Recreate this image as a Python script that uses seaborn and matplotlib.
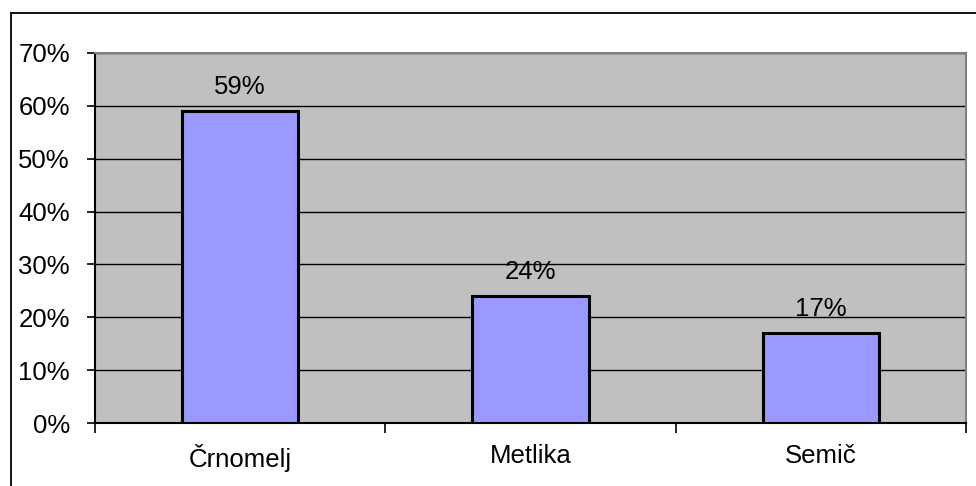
import matplotlib
matplotlib.use("Agg")
import matplotlib.pyplot as plt
from matplotlib.lines import Line2D
from matplotlib.ticker import PercentFormatter
import pandas as pd
import seaborn as sns

# data
towns = ["Črnomelj", "Metlika", "Semič"]
shares = [59, 24, 17]
y_ticks = [0, 10, 20, 30, 40, 50, 60, 70]

df = pd.DataFrame({"town": towns, "share": shares})

sns.set_style("white")
plt.rcParams["font.family"] = ["Liberation Sans", "DejaVu Sans"]

fig = plt.figure(figsize=(9.76, 4.86), dpi=100)
ax = fig.add_axes([95 / 976, 63 / 486, 871 / 976, 370 / 486])
ax.set_facecolor("#C0C0C0")

sns.barplot(data=df, x="town", y="share", hue="town",
            palette=["#9999FF"] * 3, saturation=1, width=0.4,
            edgecolor="black", linewidth=2.2, legend=False, ax=ax, zorder=3)

for i, v in enumerate(shares):
    ax.annotate(f"{v}%", (i, v), xytext=(0, 9), textcoords="offset points",
                ha="center", va="bottom", fontsize=18.5, color="black")

ax.set_ylim(0, 70)
ax.set_xlim(-0.5, 2.5)
ax.set_yticks(y_ticks)
ax.yaxis.set_major_formatter(PercentFormatter(decimals=0))
ax.grid(axis="y", color="black", linewidth=1, zorder=1)
ax.set_axisbelow(True)

ax.set_xticks(range(len(towns)))
ax.set_xticklabels(towns)
ax.set_xticks([-0.5, 0.5, 1.5, 2.5], minor=True)
ax.tick_params(axis="x", which="major", length=0, pad=15, labelsize=18.5,
               labelcolor="black")
ax.tick_params(axis="x", which="minor", length=7, width=1.2, color="black",
               direction="out", bottom=True)
ax.tick_params(axis="y", length=6, width=1.2, color="black", direction="out",
               left=True, pad=12, labelsize=18.5, labelcolor="black")
ax.set_xlabel("")
ax.set_ylabel("")

for side in ["left", "bottom"]:
    ax.spines[side].set_color("black")
    ax.spines[side].set_linewidth(1.5)
for side in ["top", "right"]:
    ax.spines[side].set_color("#808080")
    ax.spines[side].set_linewidth(1.5)

# chart area border (runs off the right and bottom edge)
x0 = 11 / 976
y0 = 1 - 13 / 486
fig.add_artist(Line2D([x0, 1.1], [y0, y0], color="black", linewidth=1.3))
fig.add_artist(Line2D([x0, x0], [-0.1, y0], color="black", linewidth=1.3))

fig.savefig("out.png", dpi=100)
